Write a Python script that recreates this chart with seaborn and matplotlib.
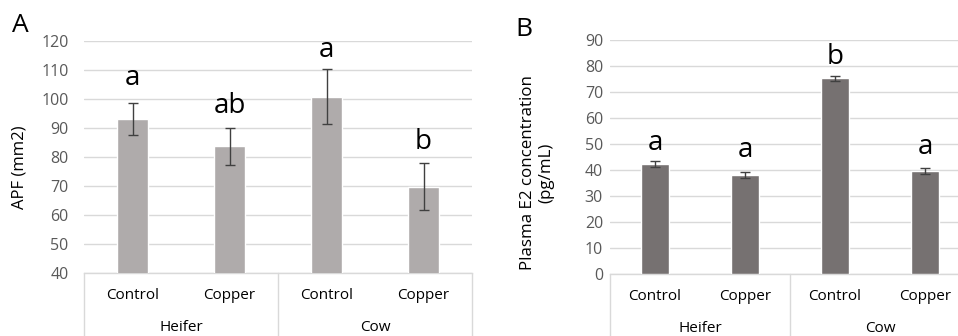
import matplotlib
matplotlib.use("Agg")
import matplotlib.pyplot as plt
import seaborn as sns
import pandas as pd
import numpy as np

# --- dane ---
groups = ["Heifer", "Heifer", "Cow", "Cow"]
treatments = ["Control", "Copper", "Control", "Copper"]

apf_mean = [93.0, 83.7, 100.8, 69.8]
apf_err = [5.5, 6.3, 9.5, 8.0]
apf_letters = ["a", "ab", "a", "b"]
apf_letter_y = [107.2, 97.6, 116.9, 85.3]

e2_mean = [42.4, 38.1, 75.2, 39.6]
e2_err = [1.2, 1.2, 1.1, 1.2]
e2_letters = ["a", "a", "b", "a"]
e2_letter_y = [50.3, 47.7, 83.6, 49.0]

sns.set_theme(style="white")
plt.rcParams['font.family'] = ['Open Sans', 'DejaVu Sans']

W, H = 958, 336
fig = plt.figure(figsize=(W / 100, H / 100), dpi=100)

GRID = "#D9D9D9"
TXT = "#595959"


def draw_panel(ax, mean, err, letters, letter_y, color, ylim, pad):
    keys = [f"{g}_{t}" for g, t in zip(groups, treatments)]
    df = pd.DataFrame({"key": keys, "value": mean})
    sns.barplot(data=df, x="key", y="value", color=color, saturation=1,
                width=0.31, errorbar=None, ax=ax, zorder=3)
    xs = np.arange(len(mean))
    ax.errorbar(xs, mean, yerr=err, fmt="none", ecolor="#404040",
                elinewidth=1, capsize=3.5, capthick=1, zorder=4)
    for x, lab, ly in zip(xs, letters, letter_y):
        ax.text(x, ly, lab, ha="center", va="center", fontsize=20, color="black")
    ax.set_ylim(*ylim)
    ax.set_xlim(-0.5, len(mean) - 0.5)
    ax.set_yticks(np.arange(ylim[0], ylim[1] + 1, 10))
    ax.yaxis.grid(True, color=GRID, linewidth=1, zorder=0)
    ax.set_axisbelow(True)
    ax.set_xlabel("")
    ax.set_ylabel("")
    ax.set_xticks([])
    ax.tick_params(axis="y", length=0, pad=pad, labelsize=11.5, labelcolor=TXT)
    for s in ["left", "right", "top"]:
        ax.spines[s].set_visible(False)
    ax.spines["bottom"].set_color(GRID)
    ax.spines["bottom"].set_linewidth(1)
    # wielopoziomowa oś kategorii
    tr = ax.get_xaxis_transform()
    for x in [-0.5, 1.5, 3.5]:
        ax.plot([x, x], [0, -0.4], color=GRID, linewidth=1, transform=tr, clip_on=False)
    for x, t in zip(xs, treatments):
        ax.text(x, -0.095, t, ha="center", va="center", fontsize=11,
                color="black", transform=tr)
    ax.text(0.5, -0.235, "Heifer", ha="center", va="center", fontsize=11,
            color="black", transform=tr)
    ax.text(2.5, -0.235, "Cow", ha="center", va="center", fontsize=11,
            color="black", transform=tr)


# Panel A
axA = fig.add_axes([84 / W, (H - 273) / H, 388 / W, 232 / H])
draw_panel(axA, apf_mean, apf_err, apf_letters, apf_letter_y, "#AFABAB", (40, 120), 11)
fig.text(20 / W, (H - 167) / H, "APF (mm2)", rotation=90, ha="center", va="center",
         fontsize=12, color="black")
fig.text(20 / W, (H - 25) / H, "A", ha="center", va="center", fontsize=19, color="black")

# Panel B
axB = fig.add_axes([610 / W, (H - 274) / H, 360 / W, 234 / H])
draw_panel(axB, e2_mean, e2_err, e2_letters, e2_letter_y, "#767171", (0, 90), 5)
fig.text(537 / W, (H - 173) / H, "Plasma E2 concentration\n(pg/mL)", rotation=90,
         ha="center", va="center", multialignment="center", fontsize=12.2,
         color="black", linespacing=1.25)
fig.text(524 / W, (H - 30) / H, "B", ha="center", va="center", fontsize=19, color="black")

fig.savefig("out.png", dpi=100)
